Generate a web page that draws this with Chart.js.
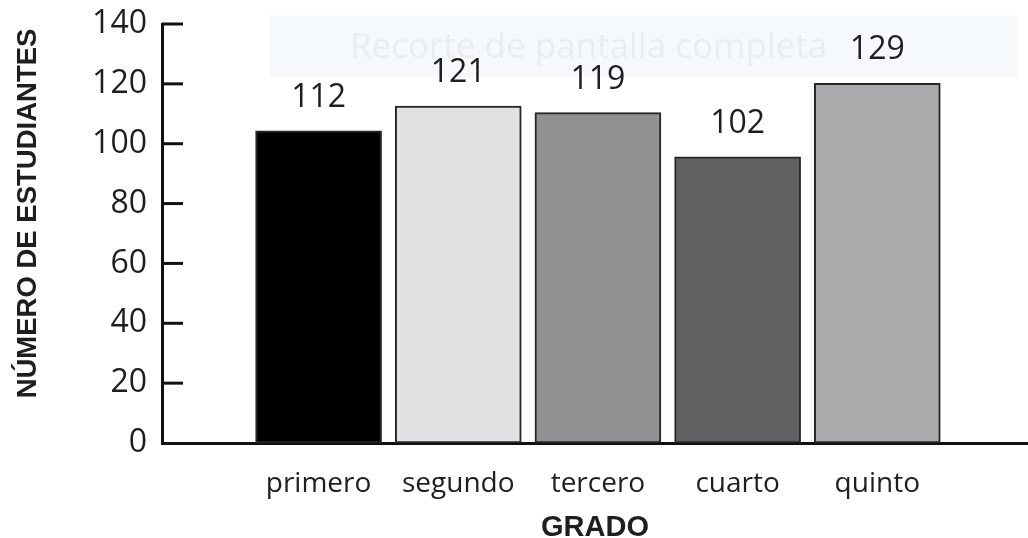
<!DOCTYPE html>
<html><head><meta charset="utf-8">
<script src="https://cdn.jsdelivr.net/npm/chart.js@4/dist/chart.umd.min.js"></script>
<style>html,body{margin:0;padding:0;background:#fff;overflow:hidden}#wrap{width:1028px;height:538px;position:relative}</style>
</head><body><div id="wrap"><canvas id="c"></canvas></div>
<script>
const categories = ['primero', 'segundo', 'tercero', 'cuarto', 'quinto'];
const barValues = [104.3, 112.6, 110.4, 95.6, 120.2];
const valueLabels = ['112', '121', '119', '102', '129'];
const barColors = ['#000000', '#dfe1e3', '#8f9193', '#5f6163', '#a8aaac'];
const yTickValues = [0, 20, 40, 60, 80, 100, 120, 140];
const yTitle = 'NÚMERO DE ESTUDIANTES';
const xTitle = 'GRADO';
const watermarkText = 'Recorte de pantalla completa';

const X_MIN = -1.121, X_MAX = 5.079;
const textColor = '#1e1e1e';

const watermarkPlugin = {
  id: 'watermark',
  beforeDraw(chart) {
    const ctx = chart.ctx;
    ctx.save();
    ctx.fillStyle = '#f6f9fc';
    ctx.fillRect(270, 15, 747, 62);
    ctx.fillStyle = '#e9edf1';
    ctx.font = '35px "Open Sans"';
    ctx.textBaseline = 'alphabetic';
    ctx.textAlign = 'left';
    ctx.fillText(watermarkText, 350, 58);
    ctx.restore();
  }
};

const decorPlugin = {
  id: 'decor',
  afterDatasetsDraw(chart) {
    const ctx = chart.ctx;
    const y = chart.scales.y;
    const area = chart.chartArea;
    ctx.save();
    ctx.strokeStyle = '#111';
    ctx.lineWidth = 3;
    y.ticks.forEach(t => {
      if (t.value === 0) return;
      const py = y.getPixelForValue(t.value);
      ctx.beginPath();
      ctx.moveTo(area.left, py);
      ctx.lineTo(area.left + 21, py);
      ctx.stroke();
    });
    const meta = chart.getDatasetMeta(0);
    ctx.fillStyle = textColor;
    ctx.font = '32px "Open Sans"';
    ctx.textAlign = 'center';
    ctx.textBaseline = 'alphabetic';
    meta.data.forEach((bar, i) => {
      ctx.fillText(valueLabels[i], bar.x, bar.y - 24);
    });
    ctx.translate(28, 213.5);
    ctx.rotate(-Math.PI / 2);
    ctx.font = 'bold 27.5px "Liberation Sans"';
    ctx.textBaseline = 'middle';
    ctx.fillText(yTitle, 0, 0);
    ctx.restore();
  }
};

new Chart(document.getElementById('c'), {
  type: 'bar',
  data: {
    datasets: [{
      data: categories.map((c, i) => ({ x: i, y: barValues[i] })),
      backgroundColor: barColors,
      borderColor: '#262626',
      borderWidth: 2,
      borderSkipped: false,
      barThickness: 126
    }]
  },
  options: {
    responsive: true,
    maintainAspectRatio: false,
    animation: false,
    layout: { padding: { top: 24, right: 0, left: 0, bottom: 0 } },
    plugins: { legend: { display: false }, tooltip: { enabled: false } },
    scales: {
      x: {
        type: 'linear',
        offset: false,
        bounds: 'data',
        min: X_MIN,
        max: X_MAX,
        afterFit(s) { s.height = 95; s.paddingLeft = 0; s.paddingRight = 0; },
        afterBuildTicks(s) {
          s.ticks = categories.map((c, i) => ({ value: i }));
          s.min = X_MIN; s.max = X_MAX;
        },
        grid: { display: false, drawTicks: false, offset: false },
        border: { display: true, color: '#111', width: 3 },
        ticks: {
          autoSkip: false,
          maxRotation: 0,
          stepSize: 1,
          padding: 24,
          color: textColor,
          font: { family: 'Open Sans', size: 28 },
          callback: (v) => categories[v] ?? ''
        },
        title: {
          display: true,
          text: xTitle,
          color: textColor,
          font: { family: 'Liberation Sans', weight: 'bold', size: 29, lineHeight: 1 },
          padding: { top: 0, bottom: -4 }
        }
      },
      y: {
        min: 0,
        max: 140,
        afterFit(s) { s.width = 162; s.paddingTop = 0; s.paddingBottom = 0; },
        afterBuildTicks(s) { s.ticks = yTickValues.map(v => ({ value: v })); },
        grid: { display: false, drawTicks: false },
        border: { display: true, color: '#111', width: 3 },
        ticks: {
          padding: 15,
          color: textColor,
          font: { family: 'Open Sans', size: 32 }
        }
      }
    }
  },
  plugins: [watermarkPlugin, decorPlugin]
});
</script>
</body></html>
